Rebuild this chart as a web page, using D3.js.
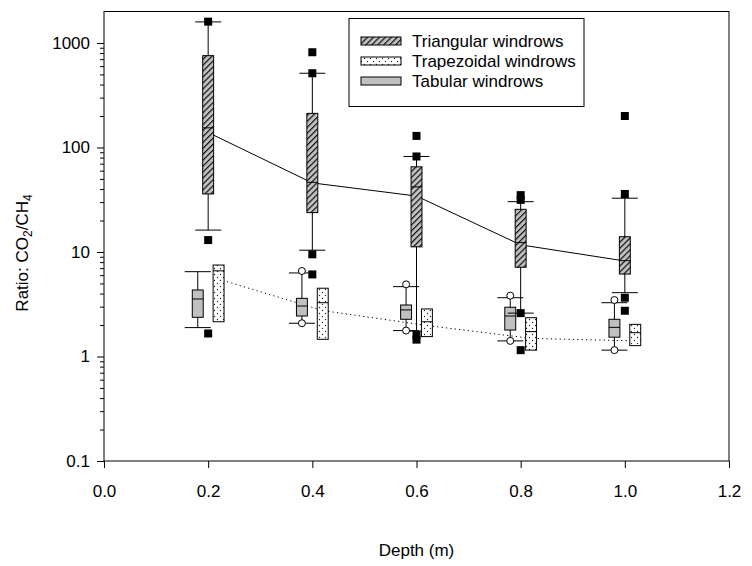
<!DOCTYPE html>
<html>
<head>
<meta charset="utf-8">
<script src="https://cdnjs.cloudflare.com/ajax/libs/d3/7.8.5/d3.min.js"></script>
<style>
    body { margin: 0; background: #fff; }
    svg text { font-family: "Liberation Sans", Arial, sans-serif; fill: #000; }
</style>
</head>
<body>
<div id="space"></div>
<script>
// Depth positions and axis ticks
var depths = [0.2, 0.4, 0.6, 0.8, 1.0];
var x_ticks = [0, 0.2, 0.4, 0.6, 0.8, 1.0, 1.2];
var y_ticks = [0.1, 1, 10, 100, 1000];
var y_tick_labels = ["0.1", "1", "10", "100", "1000"];
var series_names = ["Triangular windrows", "Trapezoidal windrows", "Tabular windrows"];

// Triangular windrows
var tri_hi = [1590, 513, 82, 30.3, 32.7];
var tri_q3 = [756, 212, 65.3, 25.6, 14.0];
var tri_med = [154, 46.4, 42, 12.3, 8.26];
var tri_q1 = [35.9, 23.8, 11.2, 7.14, 6.15];
var tri_lo = [16.2, 10.4, 1.75, 2.6, 4.08];
var tri_out = [[1600, 13.0, 1.66], [815, 513, 9.5, 6.1], [129, 82, 1.6, 1.45], [35, 31.5, 2.6, 1.15], [200, 35.9, 3.65, 2.74]];
var tri_line = [139, 45.8, 34.3, 11.7, 8.2];

// Trapezoidal windrows
var trap_q3 = [7.5, 4.5, 2.85, 2.35, 2.03];
var trap_med = [6.6, 3.27, 2.15, 1.73, 1.69];
var trap_q1 = [2.15, 1.46, 1.55, 1.15, 1.27];
var trap_line = [5.5, 2.75, 1.98, 1.49, 1.41];

// Tabular windrows
var tab_hi = [6.48, 6.3, 4.66, 3.65, 3.27];
var tab_q3 = [4.33, 3.6, 3.11, 2.96, 2.27];
var tab_med = [3.55, 3.04, 2.79, 2.44, 1.9];
var tab_q1 = [2.37, 2.44, 2.27, 1.79, 1.53];
var tab_lo = [1.89, 2.08, 1.77, 1.41, 1.15];
var tab_out = [[], [6.58, 2.08], [4.9, 1.77], [3.82, 1.41], [3.47, 1.15]];

var svg, x, y;
var font_size = 17;

init();

function init() {
    svg = d3.select("#space").append("svg")
        .attr("xmlns", "http://www.w3.org/2000/svg")
        .attr("width", 752)
        .attr("height", 566);

    x = d3.scaleLinear().domain([0, 1.2]).range([104, 729]);
    y = d3.scaleLog().domain([0.1, 2000]).range([461, 11.5]);

    initPatterns();
    drawAxes();

    //Lines go behind the boxes
    drawLine(tri_line, 0, null);
    drawLine(trap_line, 0.02, "1.2,3.2");

    drawBoxes(tab_lo, tab_q1, tab_med, tab_q3, tab_hi, -0.02, "#c0c0c0");
    drawBoxes(tri_lo, tri_q1, tri_med, tri_q3, tri_hi, 0, "url(#hatch)");
    drawBoxes(null, trap_q1, trap_med, trap_q3, null, 0.02, "url(#dots)");

    drawSquares(tri_out, 0);
    drawCircles(tab_out, -0.02);

    drawLegend();
}

function initPatterns() {
    var defs = svg.append("defs");

    var hatch = defs.append("pattern")
        .attr("id", "hatch")
        .attr("patternUnits", "userSpaceOnUse")
        .attr("width", 4.2)
        .attr("height", 4.2)
        .attr("patternTransform", "rotate(45)");
    hatch.append("rect").attr("width", 4.2).attr("height", 4.2).attr("fill", "#c0c0c0");
    hatch.append("line")
        .attr("x1", 0.6).attr("y1", 0).attr("x2", 0.6).attr("y2", 4.2)
        .attr("stroke", "#000").attr("stroke-width", 1.1);

    var dots = defs.append("pattern")
        .attr("id", "dots")
        .attr("patternUnits", "userSpaceOnUse")
        .attr("width", 6)
        .attr("height", 6);
    dots.append("rect").attr("width", 6).attr("height", 6).attr("fill", "#fff");
    dots.append("circle").attr("cx", 1.5).attr("cy", 1.5).attr("r", 0.65).attr("fill", "#222");
    dots.append("circle").attr("cx", 4.5).attr("cy", 4.5).attr("r", 0.65).attr("fill", "#222");
}

function drawAxes() {
    //Frame
    svg.append("rect")
        .attr("x", x(0)).attr("y", 11.5)
        .attr("width", x(1.2) - x(0)).attr("height", y(0.1) - 11.5)
        .attr("fill", "none").attr("stroke", "#000").attr("stroke-width", 1);

    var x_axis = d3.axisBottom(x)
        .tickValues(x_ticks)
        .tickFormat(d3.format(".1f"))
        .tickSize(7)
        .tickPadding(17);
    var gx = svg.append("g").attr("transform", "translate(0," + y(0.1) + ")").call(x_axis);
    gx.select(".domain").remove();
    gx.selectAll("text").attr("font-size", font_size);

    //Minor log ticks
    var minor = [];
    for (var d = 0.1; d < 1000; d *= 10) {
        for (var m = 2; m <= 9; m++) minor.push(+(d * m).toPrecision(3));
    }
    var gmin = svg.append("g").attr("transform", "translate(" + x(0) + ",0)")
        .call(d3.axisLeft(y).tickValues(minor).tickSize(4).tickFormat(""));
    gmin.select(".domain").remove();

    var y_axis = d3.axisLeft(y)
        .tickValues(y_ticks)
        .tickFormat(function (d, i) { return y_tick_labels[i]; })
        .tickSize(7)
        .tickPadding(7);
    var gy = svg.append("g").attr("transform", "translate(" + x(0) + ",0)").call(y_axis);
    gy.select(".domain").remove();
    gy.selectAll("text").attr("font-size", font_size);

    svg.append("text")
        .attr("x", (x(0) + x(1.2)) / 2)
        .attr("y", 556)
        .attr("text-anchor", "middle")
        .attr("font-size", font_size)
        .text("Depth (m)");

    var yt = svg.append("text")
        .attr("transform", "translate(28,253) rotate(-90)")
        .attr("text-anchor", "middle")
        .attr("font-size", font_size);
    yt.append("tspan").text("Ratio: CO");
    yt.append("tspan").attr("font-size", 12).attr("dy", 4).text("2");
    yt.append("tspan").attr("dy", -4).text("/CH");
    yt.append("tspan").attr("font-size", 12).attr("dy", 4).text("4");
}

function drawLine(values, offset, dash) {
    var line = d3.line()
        .x(function (d, i) { return x(depths[i] + offset); })
        .y(function (d) { return y(d); });

    svg.append("path")
        .datum(values)
        .attr("d", line)
        .attr("fill", "none")
        .attr("stroke", "#000")
        .attr("stroke-width", 1)
        .attr("stroke-dasharray", dash);
}

function drawBoxes(lo, q1, med, q3, hi, offset, fill) {
    var half_w = (x(0.021) - x(0)) / 2;
    var cap_w = x(0.025) - x(0);
    var g = svg.append("g");

    depths.forEach(function (dep, i) {
        var cx = x(dep + offset);

        if (lo && hi) {
            g.append("line")
                .attr("x1", cx).attr("x2", cx)
                .attr("y1", y(hi[i])).attr("y2", y(lo[i]))
                .attr("stroke", "#000");
            [hi[i], lo[i]].forEach(function (v) {
                g.append("line")
                    .attr("x1", cx - cap_w).attr("x2", cx + cap_w)
                    .attr("y1", y(v)).attr("y2", y(v))
                    .attr("stroke", "#000");
            });
        }

        g.append("rect")
            .attr("x", cx - half_w)
            .attr("y", y(q3[i]))
            .attr("width", half_w * 2)
            .attr("height", y(q1[i]) - y(q3[i]))
            .attr("fill", fill)
            .attr("stroke", "#000")
            .attr("stroke-width", 1);

        g.append("line")
            .attr("x1", cx - half_w).attr("x2", cx + half_w)
            .attr("y1", y(med[i])).attr("y2", y(med[i]))
            .attr("stroke", "#000");
    });
}

function drawSquares(outs, offset) {
    depths.forEach(function (dep, i) {
        svg.append("g").selectAll("rect")
            .data(outs[i])
            .enter().append("rect")
            .attr("x", x(dep + offset) - 4)
            .attr("y", function (d) { return y(d) - 4; })
            .attr("width", 8)
            .attr("height", 8)
            .attr("fill", "#000");
    });
}

function drawCircles(outs, offset) {
    depths.forEach(function (dep, i) {
        svg.append("g").selectAll("circle")
            .data(outs[i])
            .enter().append("circle")
            .attr("cx", x(dep + offset))
            .attr("cy", function (d) { return y(d); })
            .attr("r", 3.5)
            .attr("fill", "#fff")
            .attr("stroke", "#000");
    });
}

function drawLegend() {
    var fills = ["url(#hatch)", "url(#dots)", "#c0c0c0"];
    var g = svg.append("g");

    g.append("rect")
        .attr("x", 349).attr("y", 18.5)
        .attr("width", 235).attr("height", 88)
        .attr("fill", "#fff").attr("stroke", "#000");

    series_names.forEach(function (name, i) {
        var cy = 41 + i * 20;
        g.append("rect")
            .attr("x", 361).attr("y", cy - 4)
            .attr("width", 40).attr("height", 8)
            .attr("fill", fills[i])
            .attr("stroke", "#000");
        g.append("text")
            .attr("x", 412).attr("y", cy + 6)
            .attr("font-size", font_size)
            .text(name);
    });
}
</script>
</body>
</html>
